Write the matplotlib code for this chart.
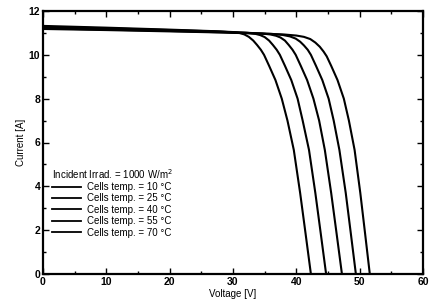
import matplotlib
matplotlib.use("Agg")
import matplotlib.pyplot as plt
from matplotlib.ticker import MultipleLocator

plt.rcParams['font.family'] = ['Liberation Sans', 'DejaVu Sans']

temps = [10, 25, 40, 55, 70]
legend_title = "Incident Irrad. = 1000 W/m$^{2}$"

# Voltage [V] / Current [A], one pair of lists per curve
v_10 = [0, 10, 20, 28, 34, 38, 40.0, 41.2, 42.2, 43.0, 43.7, 44.3, 44.8,
        45.5, 46.5, 47.5, 48.3, 49.2, 50.1, 50.85, 51.6]
i_10 = [11.18, 11.13, 11.07, 11.02, 10.97, 10.93, 10.88, 10.82, 10.72, 10.56, 10.37, 10.15, 9.93,
        9.5, 8.85, 8.0, 7.0, 5.66, 3.7, 1.86, 0]

v_25 = [0, 10, 20, 28, 33, 36.0, 37.8, 39.0, 39.9, 40.6, 41.2, 41.8, 42.3,
        43.1, 44.1, 45.1, 45.9, 46.8, 47.8, 48.6, 49.4]
i_25 = [11.21, 11.15, 11.09, 11.03, 10.99, 10.96, 10.91, 10.84, 10.74, 10.60, 10.43, 10.23, 10.0,
        9.5, 8.85, 8.0, 7.0, 5.66, 3.7, 1.86, 0]

v_40 = [0, 10, 20, 28, 32, 34.6, 35.9, 36.8, 37.5, 38.2, 38.8, 39.4, 39.9,
        40.7, 41.7, 42.7, 43.6, 44.5, 45.5, 46.35, 47.2]
i_40 = [11.25, 11.18, 11.11, 11.05, 11.01, 10.97, 10.93, 10.87, 10.79, 10.65, 10.45, 10.23, 10.0,
        9.5, 8.85, 8.0, 7.0, 5.66, 3.7, 1.86, 0]

v_55 = [0, 10, 20, 27, 30, 32.4, 33.5, 34.3, 35.0, 35.7, 36.3, 36.9, 37.4,
        38.2, 39.2, 40.2, 41.0, 42.0, 43.0, 43.85, 44.7]
i_55 = [11.28, 11.21, 11.13, 11.07, 11.03, 11.0, 10.96, 10.90, 10.81, 10.65, 10.45, 10.23, 10.0,
        9.5, 8.85, 8.0, 7.0, 5.66, 3.7, 1.86, 0]

v_70 = [0, 10, 20, 27, 30, 31.0, 31.8, 32.5, 33.2, 33.8, 34.4, 34.9,
        35.7, 36.7, 37.7, 38.6, 39.6, 40.6, 41.45, 42.3]
i_70 = [11.32, 11.24, 11.15, 11.08, 11.04, 11.0, 10.93, 10.82, 10.65, 10.45, 10.23, 10.0,
        9.5, 8.85, 8.0, 7.0, 5.66, 3.7, 1.86, 0]

curves = [(v_10, i_10), (v_25, i_25), (v_40, i_40), (v_55, i_55), (v_70, i_70)]

fig = plt.figure(figsize=(4.35, 3.03), dpi=100)
ax = fig.add_axes([43/435, 29/303, 380/435, 263/303])

for t, (v, i) in zip(temps, curves):
    ax.plot(v, i, color='black', lw=1.5, label=f"Cells temp. = {t} °C",
            solid_joinstyle='round')

ax.set_xlim(0, 60)
ax.set_ylim(0, 12)
ax.xaxis.set_major_locator(MultipleLocator(10))
ax.xaxis.set_minor_locator(MultipleLocator(5))
ax.yaxis.set_major_locator(MultipleLocator(2))
ax.yaxis.set_minor_locator(MultipleLocator(1))
ax.tick_params(which='both', direction='in', top=True, right=True, width=1.0)
ax.tick_params(which='major', length=4, labelsize=7.5, pad=2)
ax.tick_params(which='minor', length=2)
for lbl in ax.get_xticklabels() + ax.get_yticklabels():
    lbl.set_fontweight('bold')
for s in ax.spines.values():
    s.set_linewidth(1.6)

ax.set_xlabel("Voltage [V]", fontsize=7, labelpad=1.5)
ax.set_ylabel("Current [A]", fontsize=7, labelpad=2)

leg = ax.legend(loc='upper left', bbox_to_anchor=(0.005, 0.433), frameon=False,
                title=legend_title, fontsize=7, title_fontsize=7,
                alignment='left', handlelength=3.0, handletextpad=0.6,
                labelspacing=0.14, borderpad=0.2)
for h in leg.get_lines():
    h.set_linewidth(1.3)

fig.savefig("out.png", dpi=100)
